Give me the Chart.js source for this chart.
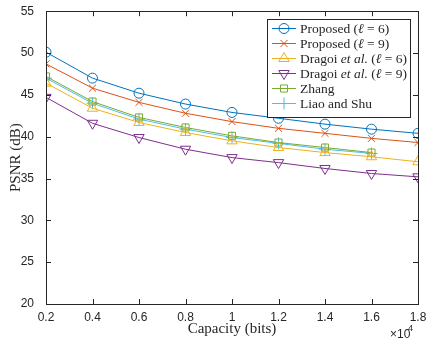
<!DOCTYPE html>
<html lang="en">
<head>
  <meta charset="UTF-8">
  <title>PSNR vs capacity</title>
  <script src="https://cdn.jsdelivr.net/npm/chart.js"></script>
  <style>
    html, body { margin: 0; padding: 0; background: #fff; }
    #wrap { width: 427px; height: 344px; }
  </style>
</head>
<body>
  <div id="wrap"><canvas id="myChart" width="427" height="344"></canvas></div>
  <script>
    // capacity in bits (axis shows x10^4)
    const capacity = [2000, 4000, 6000, 8000, 10000, 12000, 14000, 16000, 18000];
    const proposed6 = [50.1, 47.0, 45.2, 43.9, 42.9, 42.2, 41.5, 40.9, 40.4];
    const proposed9 = [48.7, 45.8, 44.1, 42.8, 41.8, 41.0, 40.4, 39.8, 39.3];
    const dragoi6 = [46.4, 43.4, 41.7, 40.5, 39.5, 38.7, 38.1, 37.6, 37.0];
    const dragoi9 = [44.7, 41.6, 39.9, 38.5, 37.5, 36.9, 36.2, 35.6, 35.2];
    const zhang = [47.2, 44.2, 42.3, 41.1, 40.1, 39.3, 38.7, 38.1];
    const liaoShu = [47.0, 44.0, 42.1, 40.9, 39.9, 39.2, 38.5, 38.0];
    const yTicks = [20, 25, 30, 35, 40, 45, 50, 55];

    const axisColor = '#262626';
    const series = [
      { name: [['Proposed (', 0], ['ℓ', 1], [' = 6)', 0]], y: proposed6, color: '#0072BD', style: 'circle', rot: 0, r: 5 },
      { name: [['Proposed (', 0], ['ℓ', 1], [' = 9)', 0]], y: proposed9, color: '#D95319', style: 'crossRot', rot: 0, r: 5 },
      { name: [['Dragoi ', 0], ['et al.', 1], [' (', 0], ['ℓ', 1], [' = 6)', 0]], y: dragoi6, color: '#EDB120', style: 'triangle', rot: 0, r: 6 },
      { name: [['Dragoi ', 0], ['et al.', 1], [' (', 0], ['ℓ', 1], [' = 9)', 0]], y: dragoi9, color: '#7E2F8E', style: 'triangle', rot: 180, r: 6 },
      { name: [['Zhang', 0]], y: zhang, color: '#77AC30', style: 'rect', rot: 0, r: 5 },
      { name: [['Liao and Shu', 0]], y: liaoShu, color: '#4DBEEE', style: 'cross', rot: 0, r: 6 }
    ];

    const datasets = series.map(s => ({
      data: s.y.map((v, i) => ({ x: capacity[i], y: v })),
      borderColor: s.color,
      borderWidth: 1,
      pointStyle: s.style,
      pointRotation: s.rot,
      pointRadius: s.r,
      pointBorderColor: s.color,
      pointBackgroundColor: 'rgba(0,0,0,0)',
      pointBorderWidth: 1,
      tension: 0
    }));

    // box, inward ticks, titles, legend
    const decor = {
      id: 'decor',
      afterDraw(chart) {
        const { ctx, chartArea: a, scales } = chart;
        ctx.save();
        ctx.strokeStyle = axisColor;
        ctx.lineWidth = 1;
        ctx.strokeRect(Math.round(a.left) + 0.5, Math.round(a.top) + 0.5,
          Math.round(a.right - a.left), Math.round(a.bottom - a.top));
        const tl = 5;
        ctx.beginPath();
        scales.x.ticks.forEach(t => {
          const px = Math.round(scales.x.getPixelForValue(t.value)) + 0.5;
          ctx.moveTo(px, a.bottom); ctx.lineTo(px, a.bottom - tl);
          ctx.moveTo(px, a.top); ctx.lineTo(px, a.top + tl);
        });
        scales.y.ticks.forEach(t => {
          const py = Math.round(scales.y.getPixelForValue(t.value)) + 0.5;
          ctx.moveTo(a.left, py); ctx.lineTo(a.left + tl, py);
          ctx.moveTo(a.right, py); ctx.lineTo(a.right - tl, py);
        });
        ctx.stroke();

        // axis titles
        ctx.fillStyle = axisColor;
        ctx.font = '15px "Liberation Serif"';
        ctx.textAlign = 'center';
        ctx.textBaseline = 'middle';
        ctx.fillText('Capacity (bits)', (a.left + a.right) / 2, 329);
        ctx.save();
        ctx.translate(16, (a.top + a.bottom) / 2);
        ctx.rotate(-Math.PI / 2);
        ctx.fillText('PSNR (dB)', 0, 0);
        ctx.restore();

        // x10^4
        ctx.textAlign = 'left';
        ctx.textBaseline = 'alphabetic';
        ctx.font = '12px "Liberation Sans"';
        ctx.fillText('\u00d710', 390, 338);
        ctx.font = '9px "Liberation Sans"';
        ctx.fillText('4', 408, 331);

        // legend
        const lx = 267.5, ly = 19.5, lw = 143, lh = 98;
        ctx.fillStyle = '#fff';
        ctx.fillRect(lx, ly, lw, lh);
        ctx.strokeStyle = axisColor;
        ctx.strokeRect(lx, ly, lw, lh);
        series.forEach((s, i) => {
          const cy = 28 + i * 15;
          ctx.strokeStyle = s.color;
          ctx.fillStyle = 'rgba(0,0,0,0)';
          ctx.lineWidth = 1;
          ctx.beginPath();
          ctx.moveTo(272, cy + 0.5); ctx.lineTo(296, cy + 0.5);
          ctx.stroke();
          Chart.helpers.drawPoint(ctx, { pointStyle: s.style, rotation: s.rot, radius: s.r, borderWidth: 1 }, 284, cy + 0.5);
          let tx = 300;
          ctx.fillStyle = axisColor;
          ctx.textAlign = 'left';
          ctx.textBaseline = 'middle';
          s.name.forEach(([txt, it]) => {
            ctx.font = (it ? 'italic ' : '') + '13.5px "Liberation Serif"';
            ctx.fillText(txt, tx, cy + 1);
            tx += ctx.measureText(txt).width;
          });
        });
        ctx.restore();
      }
    };

    const ctx = document.getElementById('myChart');
    const mychart = new Chart(ctx, {
      type: 'line',
      data: { datasets },
      options: {
        responsive: false,
        animation: false,
        layout: { padding: { top: 11, right: 9, left: 0, bottom: 0 } },
        plugins: { legend: { display: false }, tooltip: { enabled: false } },
        scales: {
          x: {
            type: 'linear',
            min: 2000, max: 18000,
            afterFit: s => { s.height = 40; },
            afterBuildTicks: s => { s.ticks = capacity.map(v => ({ value: v })); },
            grid: { display: false },
            border: { display: false },
            ticks: {
              color: axisColor, padding: -2, maxRotation: 0,
              font: { family: 'Liberation Sans', size: 12 },
              callback: v => String(v / 10000)
            }
          },
          y: {
            min: 20, max: 55,
            afterFit: s => { s.width = 46; },
            afterBuildTicks: s => { s.ticks = yTicks.map(v => ({ value: v })); },
            grid: { display: false },
            border: { display: false },
            ticks: {
              color: axisColor, padding: 4,
              font: { family: 'Liberation Sans', size: 12 }
            }
          }
        }
      },
      plugins: [decor]
    });
  </script>
</body>
</html>
